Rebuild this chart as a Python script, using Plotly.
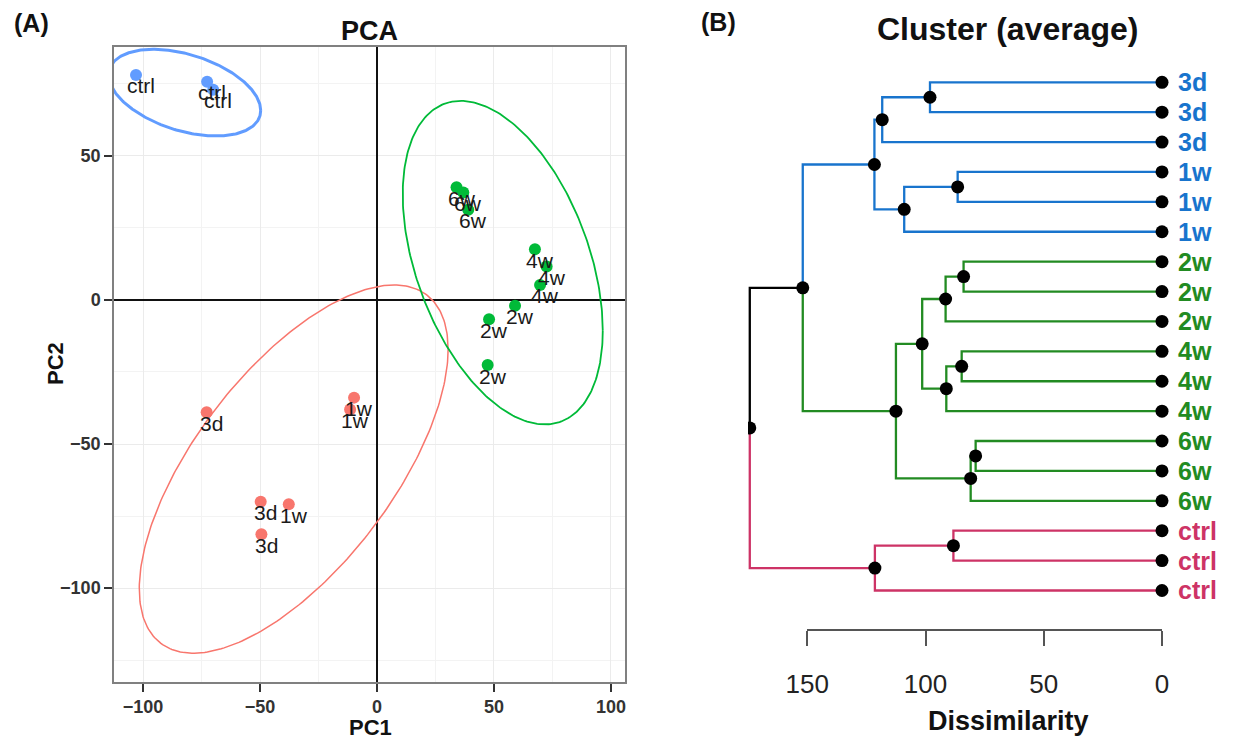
import numpy as np
import plotly.graph_objects as go

FONT = "Liberation Sans, Arial, sans-serif"

# ---------------- PCA data (panel A) ----------------
pca_pc1 = [-103.0, -72.6, -70.0,
           -72.8, -49.7, -49.4,
           -9.8, -11.5, -37.7,
           34.0, 36.9, 39.0,
           67.5, 72.5, 69.7,
           59.0, 47.9, 47.3]
pca_pc2 = [78.1, 75.7, 73.0,
           -39.0, -70.0, -81.3,
           -33.9, -38.0, -70.9,
           39.1, 37.3, 31.3,
           17.6, 11.6, 5.2,
           -2.0, -6.7, -22.6]
pca_labels = ["ctrl", "ctrl", "ctrl",
              "3d", "3d", "3d",
              "1w", "1w", "1w",
              "6w", "6w", "6w",
              "4w", "4w", "4w",
              "2w", "2w", "2w"]
pca_groups = ["ctrl"] * 3 + ["early"] * 6 + ["late"] * 9
group_names = ["early", "late", "ctrl"]
group_colors = {"early": "#F8766D", "late": "#00BA38", "ctrl": "#619CFF"}

# ellipse parameters: centre x, centre y, half-width x, half-height y, correlation
ell_cx = {"ctrl": -82.2, "early": -35.6, "late": 53.75}
ell_cy = {"ctrl": 71.95, "early": -58.7, "late": 12.95}
ell_hx = {"ctrl": 32.5, "early": 66.0, "late": 42.75}
ell_hy = {"ctrl": 15.05, "early": 63.9, "late": 56.15}
ell_r = {"ctrl": -0.41, "early": 0.65, "late": -0.42}
ell_w = {"ctrl": 3.0, "early": 1.5, "late": 1.8}

x_ticks = [-100, -50, 0, 50, 100]
y_ticks = [-100, -50, 0, 50]

# ---------------- Dendrogram data (panel B) ----------------
leaf_labels = ["3d", "3d", "3d", "1w", "1w", "1w", "2w", "2w", "2w",
               "4w", "4w", "4w", "6w", "6w", "6w", "ctrl", "ctrl", "ctrl"]
merge_a = [0, 18, 3, 20, 19, 6, 23, 9, 25, 24, 12, 28, 27, 22, 15, 32, 31]
merge_b = [1, 2, 4, 5, 21, 7, 8, 10, 11, 26, 13, 14, 29, 30, 16, 17, 33]
merge_h = [98.1, 118.3, 86.4, 109.0, 121.6, 83.9, 91.5, 84.7, 91.2,
           101.4, 78.8, 80.9, 112.5, 151.9, 88.2, 121.4, 174.3]
leaf_color = {"3d": "#1874CD", "1w": "#1874CD", "2w": "#228B22",
              "4w": "#228B22", "6w": "#228B22", "ctrl": "#CD3366"}
dist_ticks = [0, 50, 100, 150]

fig = go.Figure()

# ---- ellipses ----
t = np.linspace(0, 2 * np.pi, 300)
for g in ["ctrl", "early", "late"]:
    r = ell_r[g]
    ex = ell_cx[g] + ell_hx[g] * np.cos(t)
    ey = ell_cy[g] + ell_hy[g] * (r * np.cos(t) + np.sqrt(1 - r * r) * np.sin(t))
    fig.add_trace(go.Scatter(x=ex, y=ey, mode="lines", xaxis="x", yaxis="y",
                             line=dict(color=group_colors[g], width=ell_w[g]),
                             hoverinfo="skip", showlegend=False))

# ---- points ----
for g in group_names:
    idx = [i for i, gg in enumerate(pca_groups) if gg == g]
    fig.add_trace(go.Scatter(x=[pca_pc1[i] for i in idx], y=[pca_pc2[i] for i in idx],
                             mode="markers", xaxis="x", yaxis="y",
                             marker=dict(color=group_colors[g], size=12),
                             showlegend=False))

annotations = []
for xv, yv, lab in zip(pca_pc1, pca_pc2, pca_labels):
    annotations.append(dict(x=xv, y=yv, xref="x", yref="y", text=lab, showarrow=False,
                            xshift=5, yshift=-11,
                            font=dict(family=FONT, size=21, color="#1a1a1a")))

# ---- dendrogram geometry ----
n = len(leaf_labels)
node_y = {i: float(i) for i in range(n)}
node_h = {i: 0.0 for i in range(n)}
node_cols = {i: {leaf_color[leaf_labels[i]]} for i in range(n)}
for k, (a, b, h) in enumerate(zip(merge_a, merge_b, merge_h)):
    nid = n + k
    node_y[nid] = (node_y[a] + node_y[b]) / 2
    node_h[nid] = h
    node_cols[nid] = node_cols[a] | node_cols[b]

segs = {}
for k, (a, b, h) in enumerate(zip(merge_a, merge_b, merge_h)):
    nid = n + k
    for c in (a, b):
        col = list(node_cols[c])[0] if len(node_cols[c]) == 1 else "#000000"
        sx, sy = segs.setdefault(col, ([], []))
        sx += [node_h[nid], node_h[nid], node_h[c], None]
        sy += [node_y[nid], node_y[c], node_y[c], None]

for col, (sx, sy) in segs.items():
    fig.add_trace(go.Scatter(x=sx, y=sy, mode="lines", xaxis="x2", yaxis="y2",
                             line=dict(color=col, width=2.3), hoverinfo="skip",
                             showlegend=False))

all_ids = sorted(node_y.keys())
fig.add_trace(go.Scatter(x=[node_h[i] for i in all_ids], y=[node_y[i] for i in all_ids],
                         mode="markers", xaxis="x2", yaxis="y2",
                         marker=dict(color="black", size=13), showlegend=False))

for i, lab in enumerate(leaf_labels):
    annotations.append(dict(x=-6.0, y=i, xref="x2", yref="y2", text=lab, showarrow=False,
                            xanchor="left", yanchor="middle",
                            font=dict(family=FONT, size=25, color=leaf_color[lab], weight="bold")))

# dummy trace for the dissimilarity axis
fig.add_trace(go.Scatter(x=[None], y=[None], xaxis="x3", yaxis="y3", showlegend=False))

# ---- titles / panel letters ----
W, H = 1234, 736
def px(xp, yp):
    return xp / W, 1 - yp / H

for text, (xp, yp), size, ang in [
    ("(A)", (31, 23), 25, 0),
    ("PCA", (369, 31), 27, 0),
    ("PC1", (370, 727), 22, 0),
    ("PC2", (55, 364), 22, -90),
    ("(B)", (718, 22), 25, 0),
    ("Cluster (average)", (1007, 29), 32, 0),
    ("Dissimilarity", (1008, 721), 27, 0),
]:
    xx, yy = px(xp, yp)
    annotations.append(dict(x=xx, y=yy, xref="paper", yref="paper", text=text,
                            showarrow=False, textangle=ang, xanchor="center", yanchor="middle",
                            font=dict(family=FONT, size=size, color="#111", weight="bold")))

fig.update_layout(
    width=W, height=H, margin=dict(l=0, r=0, t=0, b=0, pad=0, autoexpand=False),
    paper_bgcolor="white", plot_bgcolor="white",
    font=dict(family=FONT),
    showlegend=False,
    xaxis=dict(domain=[114 / W, 625 / W], range=[-112.4, 106.0], automargin=False,
               tickmode="array", tickvals=x_ticks,
               tickfont=dict(family=FONT, size=18, color="#333", weight="bold"),
               ticks="outside", ticklen=8, tickwidth=1.5, tickcolor="#333",
               showline=True, mirror=True, linecolor="#808080", linewidth=1.5,
               showgrid=True, gridcolor="#ebebeb", gridwidth=1,
               minor=dict(tickmode="linear", tick0=0, dtick=25, showgrid=True,
                          gridcolor="#f3f3f3", gridwidth=1),
               zeroline=True, zerolinecolor="#111", zerolinewidth=1.6,
               anchor="y"),
    yaxis=dict(domain=[1 - 682 / H, 1 - 47 / H], range=[-132.6, 87.8], automargin=False,
               tickmode="array", tickvals=y_ticks,
               tickfont=dict(family=FONT, size=18, color="#333", weight="bold"),
               ticks="outside", ticklen=8, tickwidth=1.5, tickcolor="#333",
               showline=True, mirror=True, linecolor="#808080", linewidth=1.5,
               showgrid=True, gridcolor="#ebebeb", gridwidth=1,
               minor=dict(tickmode="linear", tick0=0, dtick=25, showgrid=True,
                          gridcolor="#f3f3f3", gridwidth=1),
               zeroline=True, zerolinecolor="#111", zerolinewidth=1.6,
               anchor="x"),
    xaxis2=dict(domain=[748 / W, 1.0], range=[(1162 - 748) / 2.365, (1162 - 1234) / 2.365],
                visible=False, anchor="y2", automargin=False),
    yaxis2=dict(domain=[1 - 600 / H, 1 - 72 / H], range=[17.318, -0.344],
                visible=False, anchor="x2", automargin=False),
    xaxis3=dict(domain=[807.3 / W, 1162 / W], range=[150, 0], anchor="y3", automargin=False,
                tickmode="array", tickvals=dist_ticks,
                tickfont=dict(family=FONT, size=26, color="#222"),
                ticks="outside", ticklen=15, tickwidth=1.5, tickcolor="#555",
                showline=True, linecolor="#555", linewidth=1.5,
                showgrid=False, zeroline=False, ticklabelstandoff=16),
    yaxis3=dict(domain=[1 - 629 / H, 1 - 610 / H], visible=False, anchor="x3", automargin=False),
    annotations=annotations,
)

fig.write_html("out.html")
